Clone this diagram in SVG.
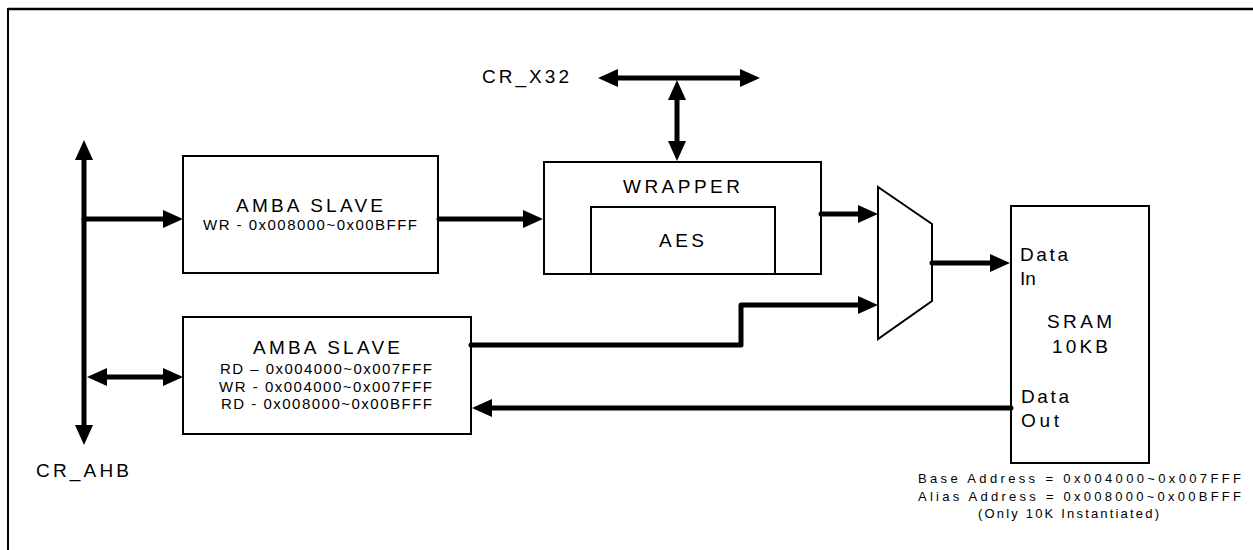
<svg xmlns="http://www.w3.org/2000/svg" width="1253" height="550" viewBox="0 0 1253 550">
<style>
.box{fill:#fff;stroke:#000;stroke-width:2}
.wire{fill:none;stroke:#000;stroke-width:5;stroke-linecap:round;stroke-linejoin:round}
.t{font-family:"Liberation Sans",Arial,sans-serif;fill:#000}
.big{font-size:19px}
.mid{font-size:15px}
.sm{font-size:13px}
</style>
<defs>
<marker id="ah" markerUnits="userSpaceOnUse" markerWidth="20" markerHeight="18" refX="10" refY="9" orient="auto-start-reverse" viewBox="0 0 20 18">
<path d="M0,0 L20,9 L0,18 z" fill="#000"/>
</marker>
</defs>
<rect width="1253" height="550" fill="#fff"/>
<g id="frame">
<line x1="8" y1="9" x2="1253" y2="9" stroke="#000" stroke-width="2.5"/>
<line x1="8" y1="8" x2="8" y2="550" stroke="#000" stroke-width="2"/>
</g>
<g id="slave1">
<rect class="box" x="183" y="156" width="255" height="117"/>
<text class="t big" x="236" y="212" textLength="147" lengthAdjust="spacing">AMBA SLAVE</text>
<text class="t mid" x="203" y="230" textLength="214" lengthAdjust="spacing">WR - 0x008000~0x00BFFF</text>
</g>
<g id="slave2">
<rect class="box" x="183" y="317" width="288" height="117"/>
<text class="t big" x="253" y="354" textLength="147" lengthAdjust="spacing">AMBA SLAVE</text>
<text class="t mid" x="220" y="374" textLength="212" lengthAdjust="spacing">RD – 0x004000~0x007FFF</text>
<text class="t mid" x="219" y="392" textLength="213" lengthAdjust="spacing">WR - 0x004000~0x007FFF</text>
<text class="t mid" x="221" y="409" textLength="211" lengthAdjust="spacing">RD - 0x008000~0x00BFFF</text>
</g>
<g id="wrapper">
<rect class="box" x="544" y="162" width="277" height="112"/>
<text class="t big" x="623" y="193" textLength="117" lengthAdjust="spacing">WRAPPER</text>
</g>
<g id="aes">
<rect class="box" x="591" y="207" width="184" height="67"/>
<text class="t big" x="659" y="247" textLength="45" lengthAdjust="spacing">AES</text>
</g>
<g id="mux">
<polygon class="box" points="878,187 932,224 932,301 878,339"/>
</g>
<g id="sram">
<rect class="box" x="1011" y="206" width="138" height="257"/>
<text class="t big" x="1020" y="261" textLength="48" lengthAdjust="spacing">Data</text>
<text class="t big" x="1020" y="285">In</text>
<text class="t big" x="1047" y="328" textLength="65" lengthAdjust="spacing">SRAM</text>
<text class="t big" x="1052" y="353" textLength="56" lengthAdjust="spacing">10KB</text>
<text class="t big" x="1021" y="403" textLength="48" lengthAdjust="spacing">Data</text>
<text class="t big" x="1021" y="427" textLength="38" lengthAdjust="spacing">Out</text>
</g>
<g id="sram-note">
<text class="t sm" x="918" y="483" textLength="323" lengthAdjust="spacing">Base Address = 0x004000~0x007FFF</text>
<text class="t sm" x="918" y="501" textLength="323" lengthAdjust="spacing">Alias Address = 0x008000~0x00BFFF</text>
<text class="t sm" x="978" y="518" textLength="181" lengthAdjust="spacing">(Only 10K Instantiated)</text>
</g>
<g id="labels">
<text class="t big" x="482" y="83" textLength="87" lengthAdjust="spacing">CR_X32</text>
<text class="t big" x="36" y="477" textLength="93" lengthAdjust="spacing">CR_AHB</text>
</g>
<g id="connectors">
<line class="wire" x1="84" y1="150" x2="84" y2="435" marker-start="url(#ah)" marker-end="url(#ah)"/>
<line class="wire" x1="84" y1="219" x2="173" y2="219" marker-end="url(#ah)"/>
<line class="wire" x1="97" y1="377" x2="173" y2="377" marker-start="url(#ah)" marker-end="url(#ah)"/>
<line class="wire" x1="439" y1="219" x2="533" y2="219" marker-end="url(#ah)"/>
<line class="wire" x1="608" y1="78" x2="750" y2="78" marker-start="url(#ah)" marker-end="url(#ah)"/>
<line class="wire" x1="677" y1="90" x2="677" y2="151" marker-start="url(#ah)" marker-end="url(#ah)"/>
<line class="wire" x1="821" y1="214" x2="868" y2="214" marker-end="url(#ah)"/>
<line class="wire" x1="932" y1="263" x2="1000" y2="263" marker-end="url(#ah)"/>
<polyline class="wire" points="471,345 741,345 741,305 868,305" marker-end="url(#ah)"/>
<line class="wire" x1="1011" y1="408" x2="482" y2="408" marker-end="url(#ah)"/>
</g>
</svg>
